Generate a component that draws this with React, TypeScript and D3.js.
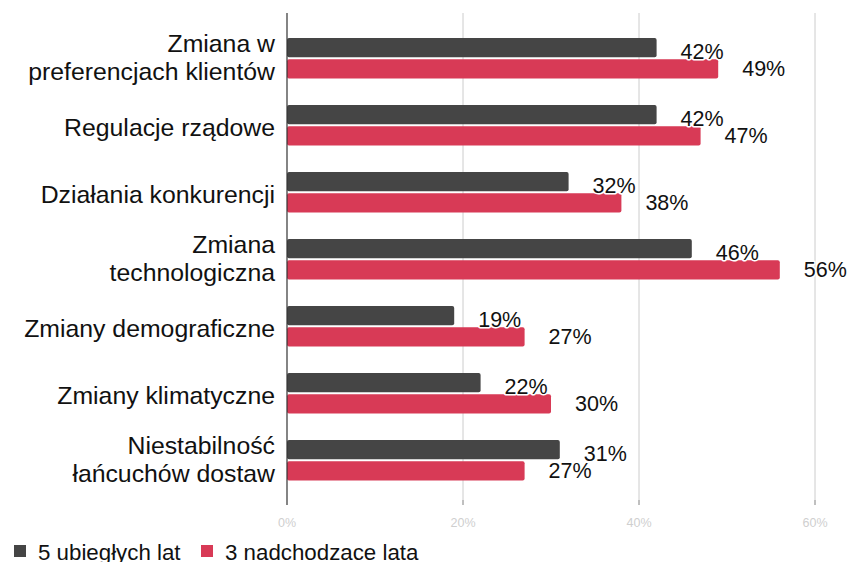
import React from "react";
import * as d3 from "d3";

const categories: string[][] = [
  ["Zmiana w", "preferencjach klientów"],
  ["Regulacje rządowe"],
  ["Działania konkurencji"],
  ["Zmiana", "technologiczna"],
  ["Zmiany demograficzne"],
  ["Zmiany klimatyczne"],
  ["Niestabilność", "łańcuchów dostaw"],
];
const seriesNames = ["5 ubiegłych lat", "3 nadchodzace lata"];
const prev5 = [42, 42, 32, 46, 19, 22, 31];
const next3 = [49, 47, 38, 56, 27, 30, 27];
const xTicks = [0, 20, 40, 60];
const colors = ["#454545", "#d83a56"];

const W = 850;
const H = 562;
const FONT = "'Liberation Sans', Arial, sans-serif";

export default function App() {
  const x = d3.scaleLinear().domain([0, 60]).range([287, 815]);
  const keys = categories.map((c) => c.join(" "));
  const y = d3.scaleBand<string>().domain(keys).range([24.5, 493.5]).padding(0);
  const inner = d3
    .scaleBand<number>()
    .domain([0, 1])
    .range([13.5, 54])
    .paddingInner(0.1);
  const series = [prev5, next3];
  const plotTop = 13;
  const plotBottom = 505;

  return (
    <svg
      width={W}
      height={H}
      style={{ position: "absolute", left: 0, top: 0, background: "#fff" }}
      fontFamily={FONT}
    >
      {xTicks.map((t) =>
        t === 0 ? null : (
          <line
            key={"g" + t}
            x1={x(t)}
            x2={x(t)}
            y1={plotTop}
            y2={plotBottom}
            stroke="#cccccc"
            strokeWidth={1}
          />
        )
      )}
      {xTicks.map((t) =>
        t === 0 ? null : (
          <line
            key={"k" + t}
            x1={x(t)}
            x2={x(t)}
            y1={500}
            y2={plotBottom}
            stroke="#9a9a9a"
            strokeWidth={1}
          />
        )
      )}
      {xTicks.map((t) => (
        <text
          key={"t" + t}
          x={x(t)}
          y={527}
          textAnchor="middle"
          fontSize={12.5}
          fill="#cfcfcf"
        >
          {t + "%"}
        </text>
      ))}
      {keys.map((k, i) =>
        series.map((s, j) => {
          const y0 = (y(k) as number) + (inner(j) as number);
          const bw = inner.bandwidth();
          return (
            <rect
              key={k + j}
              x={x(0)}
              y={y0}
              width={x(s[i]) - x(0)}
              height={bw}
              rx={2}
              fill={colors[j]}
            />
          );
        })
      )}
      <line
        x1={x(0)}
        x2={x(0)}
        y1={plotTop}
        y2={plotBottom}
        stroke="#333"
        strokeWidth={1.2}
      />
      {keys.map((k, i) =>
        series.map((s, j) => {
          const y0 = (y(k) as number) + (inner(j) as number);
          const c = y0 + inner.bandwidth() / 2;
          return (
            <text
              key={"v" + k + j}
              x={x(s[i]) + 24}
              y={j === 0 ? c + 11 : c + 7}
              fontSize={21.5}
              fill="#111"
              stroke="#fff"
              strokeWidth={3}
              strokeLinejoin="round"
              style={{ paintOrder: "stroke" }}
            >
              {s[i] + "%"}
            </text>
          );
        })
      )}
      {categories.map((lines, i) => {
        const c = (y(keys[i]) as number) + y.bandwidth() / 2;
        return (
          <text
            key={"c" + i}
            textAnchor="end"
            fontSize={24.8}
            fill="#111"
          >
            {lines.length === 1 ? (
              <tspan x={275} y={c + 10.7}>
                {lines[0]}
              </tspan>
            ) : (
              lines.map((l, li) => (
                <tspan key={li} x={275} y={c - 6.5 + li * 28}>
                  {l}
                </tspan>
              ))
            )}
          </text>
        );
      })}
      {seriesNames.map((n, j) => {
        const lx = j === 0 ? 14 : 201;
        return (
          <g key={"l" + j}>
            <rect x={lx} y={545} width={12} height={12} fill={colors[j]} />
            <text x={lx + 24} y={559.5} fontSize={22.3} fill="#111">
              {n}
            </text>
          </g>
        );
      })}
    </svg>
  );
}
